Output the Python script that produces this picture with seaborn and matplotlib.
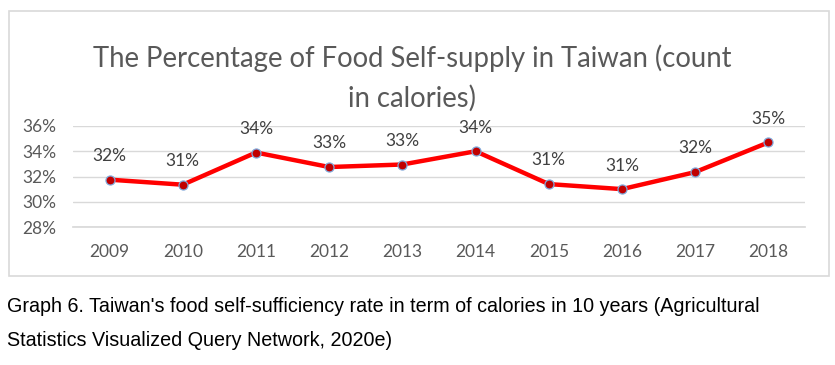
import matplotlib
matplotlib.use('Agg')
import matplotlib.pyplot as plt
import pandas as pd
import seaborn as sns
from matplotlib.patches import Rectangle

# Dane
years = ['2009', '2010', '2011', '2012', '2013', '2014', '2015', '2016', '2017', '2018']
rate = [31.75, 31.35, 33.9, 32.75, 32.95, 34.0, 31.4, 31.0, 32.35, 34.7]
labels = ['32%', '31%', '34%', '33%', '33%', '34%', '31%', '31%', '32%', '35%']
y_ticks = [28, 30, 32, 34, 36]

title = 'The Percentage of Food Self-supply in Taiwan (count\nin calories)'
caption_1 = "Graph 6. Taiwan's food self-sufficiency rate in term of calories in 10 years (Agricultural"
caption_2 = 'Statistics Visualized Query Network, 2020e)'

sns.set_theme(style='white')
plt.rcParams['font.family'] = ['Lato', 'DejaVu Sans']

df = pd.DataFrame({'year': years, 'rate': rate})

fig = plt.figure(figsize=(8.35, 3.65), dpi=100)
fig.patch.set_facecolor('white')
ax = fig.add_axes([73 / 835, 1 - 227 / 365, 732 / 835, 101 / 365])

# ramka wykresu
fig.patches.append(Rectangle((9 / 835, 1 - 276 / 365), 820 / 835, 265 / 365,
                             transform=fig.transFigure, fill=False,
                             edgecolor='#d9d9d9', linewidth=1.2))

sns.lineplot(data=df, x='year', y='rate', sort=False, ax=ax,
             color='#ff0000', linewidth=3.2, marker='o', markersize=6.5,
             markerfacecolor='#c00000', markeredgecolor='#7fa7d9',
             markeredgewidth=0.9)

for i, (v, lab) in enumerate(zip(rate, labels)):
    ax.annotate(lab, (i, v), xytext=(0, 17), textcoords='offset points',
                ha='center', va='center', fontsize=12.5, color='#404040')

ax.set_xlim(-0.5, len(years) - 0.5)
ax.set_ylim(28, 36)
ax.set_yticks(y_ticks)
ax.set_yticklabels([f'{t}%' for t in y_ticks])
ax.grid(axis='y', color='#d9d9d9', linewidth=1)
ax.grid(axis='x', visible=False)
for side in ['top', 'right', 'left']:
    ax.spines[side].set_visible(False)
ax.spines['bottom'].set_color('#d9d9d9')
ax.tick_params(axis='x', length=0, pad=12, labelsize=12.5, labelcolor='#595959')
ax.tick_params(axis='y', length=0, pad=12, labelsize=12.5, labelcolor='#595959')
ax.set_xlabel('')
ax.set_ylabel('')
ax.patch.set_alpha(0)

fig.text(0.494, 1 - 78 / 365, title, ha='center', va='center', fontsize=19.8,
         color='#595959', linespacing=1.55)

fig.text(7 / 835, 1 - 307 / 365, caption_1, ha='left', va='center',
         fontsize=14.2, color='black', family=['Liberation Sans', 'DejaVu Sans'])
fig.text(7 / 835, 1 - 341 / 365, caption_2, ha='left', va='center',
         fontsize=14.2, color='black', family=['Liberation Sans', 'DejaVu Sans'])

fig.savefig('out.png', dpi=100)
